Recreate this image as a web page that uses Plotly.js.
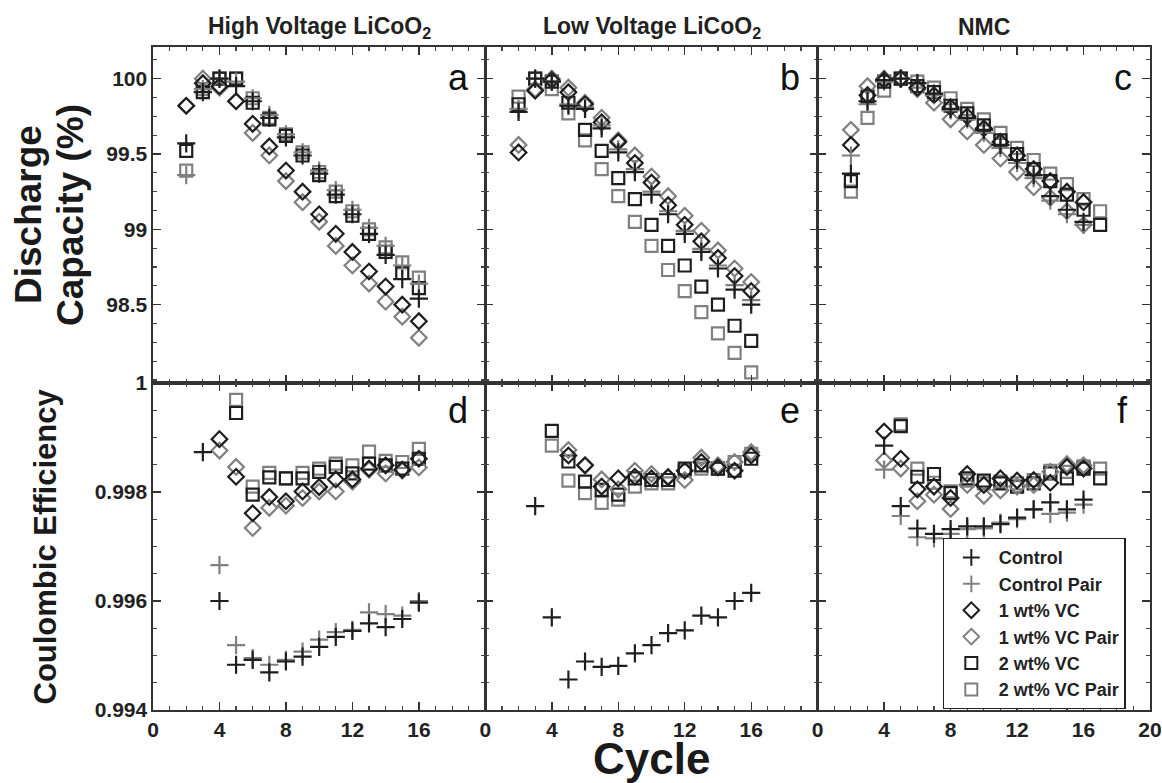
<!DOCTYPE html>
<html>
<head>
<meta charset="utf-8">
<script src="https://cdn.plot.ly/plotly-3.0.1.min.js"></script>
<style>
html,body{margin:0;padding:0;background:#fff;}
#chart{width:1162px;height:783px;}
</style>
</head>
<body>
<div id="chart"></div>
<script>
// ---------- categories ----------
const panelTitles = ["High Voltage LiCoO<sub>2</sub>", "Low Voltage LiCoO<sub>2</sub>", "NMC"];
const panelLetters = ["a", "b", "c", "d", "e", "f"];
const seriesNames = ["Control", "Control Pair", "1 wt% VC", "1 wt% VC Pair", "2 wt% VC", "2 wt% VC Pair"];

// ---------- cycle numbers ----------
const cyc2to16 = [2,3,4,5,6,7,8,9,10,11,12,13,14,15,16];
const cyc2to17 = [2,3,4,5,6,7,8,9,10,11,12,13,14,15,16,17];
const cyc3to16 = [3,4,5,6,7,8,9,10,11,12,13,14,15,16];
const cyc4to16 = [4,5,6,7,8,9,10,11,12,13,14,15,16];
const cyc5to16 = [5,6,7,8,9,10,11,12,13,14,15,16];
const cyc5to17 = [5,6,7,8,9,10,11,12,13,14,15,16,17];

// ---------- (a) High Voltage LiCoO2 discharge capacity (%) ----------
const hvCapControl     = [99.57, 99.91, 100.0, 99.95, 99.85, 99.74, 99.61, 99.49, 99.37, 99.23, 99.10, 98.97, 98.83, 98.67, 98.54];
const hvCapControlPair = [99.36, 99.93, 100.0, 99.98, 99.87, 99.76, 99.63, 99.51, 99.39, 99.26, 99.13, 99.01, 98.89, 98.76, 98.64];
const hvCapVC1         = [99.82, 99.97, 99.95, 99.85, 99.70, 99.55, 99.39, 99.25, 99.10, 98.97, 98.85, 98.72, 98.62, 98.50, 98.39];
const hvCapVC1Pair     = [99.82, 100.0, 99.94, 99.85, 99.64, 99.49, 99.32, 99.18, 99.05, 98.89, 98.76, 98.64, 98.52, 98.42, 98.28];
const hvCapVC2         = [99.52, 99.91, 100.0, 100.0, 99.84, 99.73, 99.62, 99.49, 99.36, 99.22, 99.09, 98.97, 98.85, 98.71, 98.61];
const hvCapVC2Pair     = [99.39, 99.93, 100.0, 100.0, 99.87, 99.74, 99.63, 99.51, 99.38, 99.25, 99.12, 99.00, 98.88, 98.78, 98.68];

// ---------- (b) Low Voltage LiCoO2 discharge capacity (%) ----------
const lvCapControl     = [99.78, 100.0, 99.98, 99.82, 99.80, 99.67, 99.51, 99.38, 99.23, 99.10, 98.97, 98.85, 98.74, 98.60, 98.50];
const lvCapControlPair = [99.80, 100.0, 99.98, 99.83, 99.81, 99.69, 99.53, 99.40, 99.25, 99.12, 98.99, 98.87, 98.76, 98.63, 98.53];
const lvCapVC1         = [99.51, 99.92, 99.99, 99.91, 99.83, 99.71, 99.58, 99.44, 99.31, 99.16, 99.03, 98.92, 98.81, 98.69, 98.59];
const lvCapVC1Pair     = [99.56, 99.93, 100.0, 99.94, 99.84, 99.74, 99.59, 99.49, 99.35, 99.22, 99.09, 98.99, 98.86, 98.74, 98.65];
const lvCapVC2         = [99.83, 100.0, 99.98, 99.84, 99.66, 99.52, 99.34, 99.20, 99.03, 98.89, 98.76, 98.62, 98.50, 98.36, 98.26];
const lvCapVC2Pair     = [99.88, 100.0, 99.93, 99.77, 99.59, 99.40, 99.22, 99.05, 98.89, 98.73, 98.59, 98.45, 98.31, 98.18, 98.05];

// ---------- (c) NMC discharge capacity (%) ----------
const nmcCapControl     = [99.37, 99.85, 99.99, 100.0, 99.97, 99.90, 99.80, 99.74, 99.66, 99.56, 99.46, 99.36, 99.22, 99.13, 99.05];
const nmcCapControlPair = [99.49, 99.83, 99.98, 100.0, 99.97, 99.89, 99.79, 99.73, 99.64, 99.54, 99.44, 99.34, 99.19, 99.10, 99.03];
const nmcCapVC1         = [99.56, 99.89, 99.99, 100.0, 99.94, 99.89, 99.81, 99.75, 99.67, 99.58, 99.49, 99.40, 99.32, 99.25, 99.18];
const nmcCapVC1Pair     = [99.66, 99.95, 100.0, 100.0, 99.93, 99.84, 99.73, 99.65, 99.56, 99.47, 99.38, 99.28, 99.21, 99.12, 99.03];
const nmcCapVC2         = [99.32, 99.88, 99.98, 100.0, 99.95, 99.91, 99.82, 99.77, 99.69, 99.59, 99.50, 99.40, 99.32, 99.23, 99.13, 99.03];
const nmcCapVC2Pair     = [99.25, 99.74, 99.92, 100.0, 99.98, 99.94, 99.87, 99.80, 99.73, 99.64, 99.54, 99.46, 99.37, 99.30, 99.20, 99.12];

// ---------- (d) High Voltage LiCoO2 coulombic efficiency ----------
const hvCeControl     = [0.99873, 0.99600, 0.99483, 0.99492, 0.99469, 0.99489, 0.99498, 0.99516, 0.99534, 0.99545, 0.99559, 0.99552, 0.99567, 0.99597];
const hvCeControlPair = [0.99666, 0.99519, 0.99495, 0.99483, 0.99492, 0.99507, 0.99529, 0.99543, 0.99547, 0.99579, 0.99576, 0.99573, 0.99600];
const hvCeVC1         = [0.99897, 0.99828, 0.99761, 0.99791, 0.99783, 0.99801, 0.99809, 0.99823, 0.99823, 0.99843, 0.99849, 0.99841, 0.99861];
const hvCeVC1Pair     = [0.99876, 0.99846, 0.99734, 0.99771, 0.99775, 0.99789, 0.99801, 0.99801, 0.99819, 0.99841, 0.99834, 0.99839, 0.99845];
const hvCeVC2         = [0.99945, 0.99795, 0.99827, 0.99825, 0.99825, 0.99837, 0.99846, 0.99834, 0.99852, 0.99849, 0.99843, 0.99861];
const hvCeVC2Pair     = [0.99969, 0.99810, 0.99835, 0.99825, 0.99835, 0.99843, 0.99852, 0.99849, 0.99874, 0.99857, 0.99855, 0.99879];

// ---------- (e) Low Voltage LiCoO2 coulombic efficiency ----------
const lvCeControl = [0.99774, 0.99570, 0.99456, 0.99489, 0.99479, 0.99481, 0.99504, 0.99519, 0.99541, 0.99546, 0.99573, 0.99570, 0.99600, 0.99615];
const lvCeVC1     = [0.99867, 0.99849, 0.99810, 0.99825, 0.99828, 0.99825, 0.99827, 0.99839, 0.99855, 0.99845, 0.99839, 0.99867];
const lvCeVC1Pair = [0.99877, 0.99849, 0.99823, 0.99805, 0.99839, 0.99833, 0.99828, 0.99822, 0.99863, 0.99849, 0.99855, 0.99873];
const lvCeVC2     = [0.99912, 0.99856, 0.99819, 0.99804, 0.99795, 0.99825, 0.99822, 0.99822, 0.99843, 0.99849, 0.99843, 0.99839, 0.99861];
const lvCeVC2Pair = [0.99885, 0.99821, 0.99798, 0.99780, 0.99786, 0.99810, 0.99816, 0.99816, 0.99839, 0.99843, 0.99843, 0.99855, 0.99870];

// ---------- (f) NMC coulombic efficiency ----------
const nmcCeControl     = [0.99885, 0.99774, 0.99733, 0.99723, 0.99732, 0.99737, 0.99737, 0.99741, 0.99753, 0.99768, 0.99781, 0.99768, 0.99786];
const nmcCeControlPair = [0.99841, 0.99756, 0.99717, 0.99715, 0.99723, 0.99732, 0.99733, 0.99744, 0.99750, 0.99768, 0.99760, 0.99762, 0.99777];
const nmcCeVC1         = [0.99911, 0.99861, 0.99805, 0.99810, 0.99789, 0.99833, 0.99813, 0.99825, 0.99821, 0.99822, 0.99817, 0.99846, 0.99843];
const nmcCeVC1Pair     = [0.99858, 0.99843, 0.99783, 0.99795, 0.99769, 0.99813, 0.99793, 0.99803, 0.99810, 0.99813, 0.99837, 0.99851, 0.99849];
const nmcCeVC2         = [0.99921, 0.99828, 0.99833, 0.99798, 0.99825, 0.99821, 0.99816, 0.99810, 0.99816, 0.99834, 0.99825, 0.99843, 0.99825];
const nmcCeVC2Pair     = [0.99924, 0.99843, 0.99817, 0.99801, 0.99821, 0.99816, 0.99819, 0.99816, 0.99822, 0.99839, 0.99837, 0.99847, 0.99843];

// ---------- tick labels ----------
const capTickVals = [98.5, 99, 99.5, 100];
const capTickText = ["98.5", "99", "99.5", "100"];
const ceTickVals = [0.994, 0.996, 0.998, 1.0];
const ceTickText = ["0.994", "0.996", "0.998", "1"];
const cycTickVals = [0, 4, 8, 12, 16];
const cycTickValsLast = [0, 4, 8, 12, 16, 20];

// ---------- styling ----------
const BLACK = "#1e1e1e";
const GRAY = "#808080";
const FONT = "Liberation Sans, Arial, Helvetica, sans-serif";
const styles = [
  {symbol: "cross-thin-open", color: BLACK, size: 13, w: 2.2},
  {symbol: "cross-thin-open", color: GRAY, size: 13, w: 2.2},
  {symbol: "diamond-open", color: BLACK, size: 12, w: 2.2},
  {symbol: "diamond-open", color: GRAY, size: 12, w: 2.2},
  {symbol: "square-open", color: BLACK, size: 12, w: 2.2},
  {symbol: "square-open", color: GRAY, size: 12, w: 2.2}
];

// panel: [series index, x, y]
const panels = [
  [[5, cyc2to16, hvCapVC2Pair],[4, cyc2to16, hvCapVC2],[3, cyc2to16, hvCapVC1Pair],[2, cyc2to16, hvCapVC1],[1, cyc2to16, hvCapControlPair],[0, cyc2to16, hvCapControl]],
  [[5, cyc2to16, lvCapVC2Pair],[4, cyc2to16, lvCapVC2],[3, cyc2to16, lvCapVC1Pair],[2, cyc2to16, lvCapVC1],[1, cyc2to16, lvCapControlPair],[0, cyc2to16, lvCapControl]],
  [[5, cyc2to17, nmcCapVC2Pair],[4, cyc2to17, nmcCapVC2],[3, cyc2to16, nmcCapVC1Pair],[2, cyc2to16, nmcCapVC1],[1, cyc2to16, nmcCapControlPair],[0, cyc2to16, nmcCapControl]],
  [[5, cyc5to16, hvCeVC2Pair],[4, cyc5to16, hvCeVC2],[3, cyc4to16, hvCeVC1Pair],[2, cyc4to16, hvCeVC1],[1, cyc4to16, hvCeControlPair],[0, cyc3to16, hvCeControl]],
  [[5, cyc4to16, lvCeVC2Pair],[4, cyc4to16, lvCeVC2],[3, cyc5to16, lvCeVC1Pair],[2, cyc5to16, lvCeVC1],[0, cyc3to16, lvCeControl]],
  [[5, cyc5to17, nmcCeVC2Pair],[4, cyc5to17, nmcCeVC2],[3, cyc4to16, nmcCeVC1Pair],[2, cyc4to16, nmcCeVC1],[1, cyc4to16, nmcCeControlPair],[0, cyc4to16, nmcCeControl]]
];

const traces = [];
panels.forEach((plist, p) => {
  const ax = p === 0 ? "" : String(p + 1);
  plist.forEach(([s, xs, ys]) => {
    const st = styles[s];
    traces.push({
      type: "scatter", mode: "markers",
      x: xs, y: ys,
      xaxis: "x" + ax, yaxis: "y" + ax,
      name: seriesNames[s],
      legendgroup: seriesNames[s],
      legendrank: s + 1,
      showlegend: p === 5,
      marker: {symbol: st.symbol, size: st.size, color: st.color, line: {color: st.color, width: st.w}},
      hoverinfo: "x+y+name"
    });
  });
});

const colDom = [[0, 1/3], [1/3, 2/3], [2/3, 1]];
const ySplit = 327 / 663;
const rowDom = [[ySplit, 1], [0, ySplit]];

const layout = {
  width: 1162, height: 783,
  margin: {l: 153, r: 12, t: 47, b: 73},
  paper_bgcolor: "#fff", plot_bgcolor: "#fff",
  font: {family: FONT, color: "#222"},
  showlegend: true,
  legend: {
    x: 0.792, y: 0.2594, xanchor: "left", yanchor: "top",
    bgcolor: "#fff", bordercolor: "#222", borderwidth: 1.2,
    font: {family: FONT, size: 18, weight: "bold", color: "#222"},
    traceorder: "normal", tracegroupgap: 0, itemsizing: "constant",
    itemwidth: 45
  },
  annotations: [],
  hovermode: "closest"
};

for (let p = 0; p < 6; p++) {
  const col = p % 3, row = Math.floor(p / 3);
  const ax = p === 0 ? "" : String(p + 1);
  const common = {
    showline: true, linecolor: "#333", linewidth: 1.6, mirror: "allticks",
    ticks: "inside", ticklen: 8, tickwidth: 1.4, tickcolor: "#333",
    showgrid: false, zeroline: false, fixedrange: true,
    tickfont: {family: FONT, size: 21, weight: "bold", color: "#222"}
  };
  layout["xaxis" + ax] = Object.assign({}, common, {
    domain: colDom[col], anchor: "y" + ax, range: [0, 20],
    tickmode: "array", tickvals: col === 2 ? cycTickValsLast : cycTickVals,
    ticktext: (col === 2 ? cycTickValsLast : cycTickVals).map(String),
    showticklabels: row === 1,
    minor: {ticks: "inside", ticklen: 4, tickwidth: 1.2, tickcolor: "#444", dtick: 1, tick0: 0}
  });
  layout["yaxis" + ax] = Object.assign({}, common, {
    domain: rowDom[row], anchor: "x" + ax,
    range: row === 0 ? [97.98, 100.21] : [0.994, 1.0],
    tickmode: "array",
    tickvals: row === 0 ? capTickVals : ceTickVals,
    ticktext: row === 0 ? capTickText : ceTickText,
    showticklabels: col === 0,
    minor: row === 0
      ? {ticks: "inside", ticklen: 4, tickwidth: 1.2, tickcolor: "#444", dtick: 0.125, tick0: 98}
      : {ticks: "inside", ticklen: 4, tickwidth: 1.2, tickcolor: "#444", dtick: 0.0005, tick0: 0.994}
  });
  layout.annotations.push({
    xref: "x" + ax + " domain", yref: "y" + ax + " domain",
    x: 0.918, y: row === 0 ? 0.91 : 0.915, xanchor: "center", yanchor: "middle",
    text: panelLetters[p], showarrow: false,
    font: {family: FONT, size: 36, color: "#111"}
  });
}

panelTitles.forEach((t, i) => {
  layout.annotations.push({
    xref: "paper", yref: "paper", x: (colDom[i][0] + colDom[i][1]) / 2, y: 1,
    yshift: 20, xanchor: "center", yanchor: "middle",
    text: t, showarrow: false,
    font: {family: FONT, size: 23, weight: "bold", color: "#222"}
  });
});

// axis titles
layout.annotations.push({
  xref: "paper", yref: "paper", x: 0, xshift: -125, y: (ySplit + 1) / 2,
  xanchor: "center", yanchor: "middle", textangle: -90,
  text: "Discharge", showarrow: false,
  font: {family: FONT, size: 37, weight: "bold", color: "#1a1a1a"}
});
layout.annotations.push({
  xref: "paper", yref: "paper", x: 0, xshift: -83, y: (ySplit + 1) / 2,
  xanchor: "center", yanchor: "middle", textangle: -90,
  text: "Capacity (%)", showarrow: false,
  font: {family: FONT, size: 37, weight: "bold", color: "#1a1a1a"}
});
layout.annotations.push({
  xref: "paper", yref: "paper", x: 0, xshift: -108, y: ySplit / 2,
  xanchor: "center", yanchor: "middle", textangle: -90,
  text: "Coulombic Efficiency", showarrow: false,
  font: {family: FONT, size: 31, weight: "bold", color: "#1a1a1a"}
});
layout.annotations.push({
  xref: "paper", yref: "paper", x: 0.5, y: 0, yshift: -48,
  xanchor: "center", yanchor: "middle",
  text: "Cycle", showarrow: false,
  font: {family: FONT, size: 44, weight: "bold", color: "#1a1a1a"}
});

Plotly.newPlot("chart", traces, layout, {displayModeBar: false, staticPlot: true});
</script>
</body>
</html>
